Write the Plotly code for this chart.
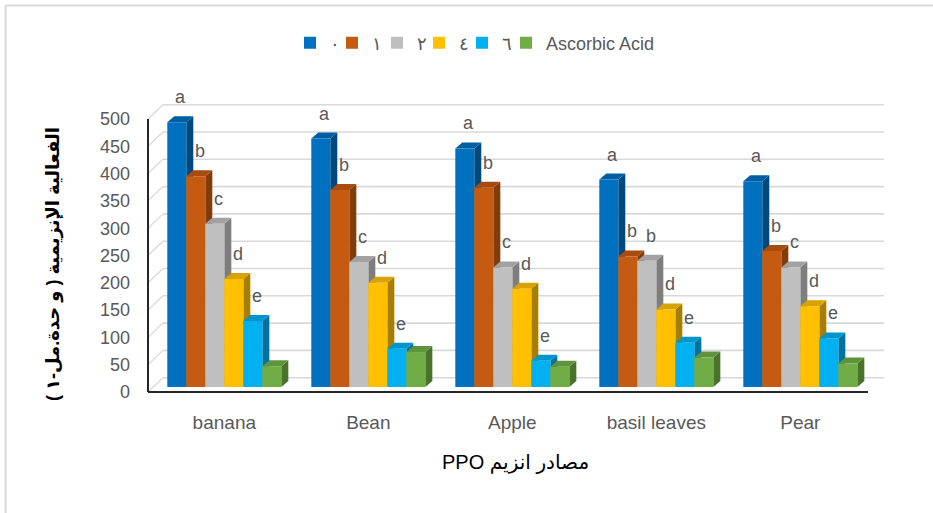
import plotly.graph_objects as go

# ---- data -------------------------------------------------------------
categories = ["banana", "Bean", "Apple", "basil leaves", "Pear"]
series_names = ["٠", "١", "٢", "٤", "٦", "Ascorbic Acid"]

activity_0 = [485, 455, 437, 380, 377]
activity_1 = [386, 361, 365, 239, 249]
activity_2 = [299, 229, 219, 231, 219]
activity_4 = [198, 191, 180, 142, 148]
activity_6 = [121, 70, 48, 81, 89]
activity_ascorbic = [38, 64, 37, 54, 43]

letters_0 = ["a", "a", "a", "a", "a"]
letters_1 = ["b", "b", "b", "b", "b"]
letters_2 = ["c", "c", "c", "b", "c"]
letters_4 = ["d", "d", "d", "d", "d"]
letters_6 = ["e", "e", "e", "e", "e"]
letters_ascorbic = ["", "", "", "", ""]

y_ticks = [0, 50, 100, 150, 200, 250, 300, 350, 400, 450, 500]

series_values = [activity_0, activity_1, activity_2, activity_4, activity_6, activity_ascorbic]
series_letters = [letters_0, letters_1, letters_2, letters_4, letters_6, letters_ascorbic]
front_colors = ["#0070C0", "#C55A11", "#BFBFBF", "#FFC000", "#00B0F0", "#70AD47"]

# ---- geometry ---------------------------------------------------------
W, H = 933, 513
ML, MR, MT, MB = 148, 65, 114, 121
X_RANGE = [-0.53, 4.47]
Y_RANGE = [-9.2, 500]
PW, PH = W - ML - MR, H - MT - MB
BW = 0.132                        # width of one column
DX = 7 / PW * (X_RANGE[1] - X_RANGE[0])   # depth offset, x units
DY = 6 / PH * (Y_RANGE[1] - Y_RANGE[0])   # depth offset, y units
FRONT_UNITS = 5 / PH * (Y_RANGE[1] - Y_RANGE[0])   # front edge sits 5px lower
BACK_UNITS = 9.3 / PH * (Y_RANGE[1] - Y_RANGE[0])  # back wall 9.3px higher
WALL_DX = 15
LEGEND_SWATCH_PX = [303, 345, 390, 432, 475, 519]  # left edge of each legend swatch


def xp(px):
    return (px - ML) / PW


def yp_val(v):
    return (v - Y_RANGE[0]) / (Y_RANGE[1] - Y_RANGE[0])


def yp(py):
    return (H - MB - py) / PH


def shade(hex_color, k):
    r, g, b = (int(hex_color[i:i + 2], 16) for i in (1, 3, 5))
    return "#%02x%02x%02x" % (int(r * k), int(g * k), int(b * k))


FONT = "Liberation Sans, DejaVu Sans, sans-serif"
GRAY = "#595959"

fig = go.Figure()
shapes = []
annotations = []

# frame of the chart area
shapes.append(dict(type="line", xref="paper", yref="paper", x0=xp(5.5), x1=xp(940),
                   y0=yp(5.5), y1=yp(5.5), line=dict(color="#d9d9d9", width=2), layer="below"))
shapes.append(dict(type="line", xref="paper", yref="paper", x0=xp(5.5), x1=xp(5.5),
                   y0=yp(5.5), y1=yp(520), line=dict(color="#d9d9d9", width=2), layer="below"))

# back-wall gridlines and side-wall diagonals
for t in y_ticks:
    yb = yp_val(t + BACK_UNITS)
    yf = yp_val(t - FRONT_UNITS)
    shapes.append(dict(type="line", xref="paper", yref="paper", x0=xp(ML + WALL_DX), x1=xp(884),
                       y0=yb, y1=yb, line=dict(color="#d9d9d9", width=1.6), layer="below"))
    shapes.append(dict(type="line", xref="paper", yref="paper", x0=0, x1=xp(ML + WALL_DX),
                       y0=yf, y1=yb, line=dict(color="#d9d9d9", width=1.3), layer="below"))

legend_common = dict(orientation="h", xanchor="left", yanchor="middle", y=yp(43),
                     font=dict(family=FONT, size=18, color=GRAY), itemwidth=30,
                     bgcolor="rgba(0,0,0,0)")
legend_layout = {}

# columns: front faces as bars, side and top faces as shapes behind them
for i, (name, vals, lets, col) in enumerate(zip(series_names, series_values, series_letters,
                                               front_colors)):
    xs = [j + (i - 2.5) * BW for j in range(len(categories))]
    side_col = shade(col, 0.66)
    top_col = shade(col, 0.85)
    for xc, v, lt in zip(xs, vals, lets):
        xl, xr = xc - BW / 2, xc + BW / 2
        shapes.append(dict(type="path", xref="x", yref="y", layer="below",
                           path=f"M{xr},0 L{xr},{v} L{xr + DX},{v + DY} L{xr + DX},{DY} Z",
                           fillcolor=side_col, line=dict(width=0)))
        shapes.append(dict(type="path", xref="x", yref="y", layer="below",
                           path=f"M{xl},{v} L{xr},{v} L{xr + DX},{v + DY} L{xl + DX},{v + DY} Z",
                           fillcolor=top_col, line=dict(width=0)))
        if lt:
            annotations.append(dict(x=xc, y=v, xref="x", yref="y", text=lt, showarrow=False,
                                    xanchor="center", yanchor="middle",
                                    xshift=4, yshift=25, font=dict(family=FONT, size=18, color=GRAY)))
    lg = "legend" if i == 0 else f"legend{i + 1}"
    legend_layout[lg] = dict(legend_common, x=xp(LEGEND_SWATCH_PX[i] - 13))
    fig.add_trace(go.Bar(x=xs, y=vals, width=BW, name=name, legend=lg,
                         marker=dict(color=col, line=dict(width=0))))

# front axis lines
shapes.append(dict(type="line", xref="paper", yref="paper", x0=0, x1=0,
                   y0=yp_val(-FRONT_UNITS), y1=yp_val(500 - FRONT_UNITS),
                   line=dict(color="#262626", width=2)))
shapes.append(dict(type="line", xref="paper", yref="paper", x0=0, x1=1,
                   y0=yp_val(-FRONT_UNITS), y1=yp_val(-FRONT_UNITS),
                   line=dict(color="#262626", width=2)))

# axis titles
annotations.append(dict(xref="paper", yref="paper", x=xp(515), y=yp(462), showarrow=False,
                        xanchor="center", yanchor="middle",
                        text="\u202bمصادر انزيم PPO\u202c",
                        font=dict(family=FONT, size=20, color="#000000")))
annotations.append(dict(xref="paper", yref="paper", x=xp(53), y=yp(264), showarrow=False,
                        xanchor="center", yanchor="middle",
                        textangle=-90, text="<b>\u202bالفعالية الإنزيمية ( و حدة.مل-١ )\u202c</b>",
                        font=dict(family=FONT, size=18, color="#000000")))

fig.update_layout(
    width=W, height=H,
    margin=dict(l=ML, r=MR, t=MT, b=MB, pad=0),
    paper_bgcolor="white", plot_bgcolor="rgba(0,0,0,0)",
    barmode="overlay",
    showlegend=True,
    xaxis=dict(range=X_RANGE, tickvals=list(range(len(categories))), ticktext=categories,
               showgrid=False, zeroline=False, showline=False, ticks="",
               ticklabelstandoff=17, tickfont=dict(family=FONT, size=19, color=GRAY)),
    yaxis=dict(range=Y_RANGE, tickvals=y_ticks, showgrid=False, zeroline=False, showline=False,
               ticks="", ticklabelshift=5, ticklabelstandoff=17,
               tickfont=dict(family=FONT, size=18, color=GRAY)),
    shapes=shapes,
    annotations=annotations,
    **legend_layout,
)

fig.write_html("out.html")
